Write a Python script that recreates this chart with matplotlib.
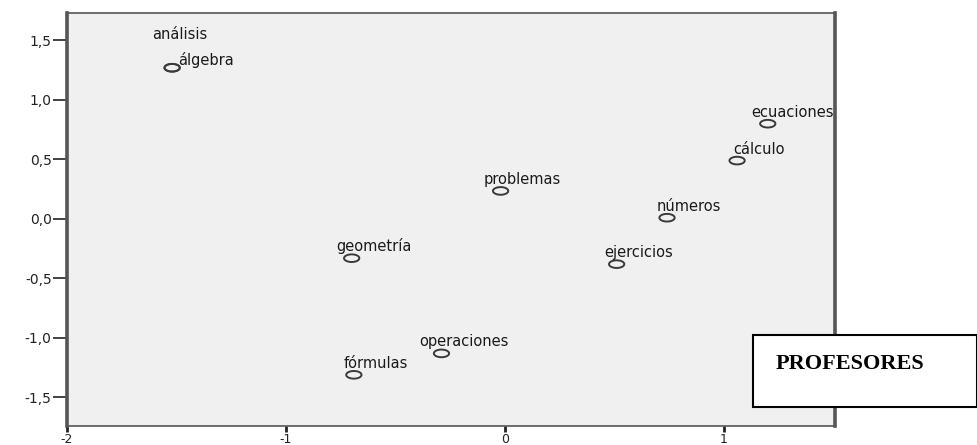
import matplotlib
matplotlib.use("Agg")
import matplotlib.pyplot as plt
import numpy as np
from matplotlib.path import Path
from matplotlib.patches import Rectangle

# coordenadas (dimension 1, dimension 2)
terms = ["análisis", "álgebra", "ecuaciones", "cálculo", "problemas", "números",
         "geometría", "ejercicios", "operaciones", "fórmulas"]
dim1 = [-1.52, -1.52, 1.20, 1.06, -0.02, 0.74, -0.70, 0.51, -0.29, -0.69]
dim2 = [1.27, 1.27, 0.80, 0.49, 0.235, 0.01, -0.33, -0.38, -1.13, -1.31]

xticks = [-2, -1, 0, 1]
yticks = [-1.5, -1.0, -0.5, 0.0, 0.5, 1.0, 1.5]

# desplazamiento de las etiquetas (pixeles) y alineacion
label_pos = {
    "análisis": (8, 29, "center"),
    "álgebra": (6, 3, "left"),
    "ecuaciones": (66, 7, "right"),
}

fig = plt.figure(figsize=(9.78, 4.45), dpi=100)
ax = fig.add_axes([67 / 978, 1 - 426 / 445, (835 - 67) / 978, (426 - 13) / 445])
ax.set_facecolor("#f0f0f0")

# marcador eliptico (la imagen original esta estirada en horizontal)
t = np.linspace(0, 2 * np.pi, 60)
ellipse = Path(np.column_stack([np.cos(t), 0.5 * np.sin(t)]))
ax.scatter(dim1, dim2, marker=ellipse, s=11 ** 2, facecolors="none",
           edgecolors="#3a3a3a", linewidths=1.4, zorder=3)

for name, x, y in zip(terms, dim1, dim2):
    dx, dy, ha = label_pos.get(name, (22, 7, "center"))
    ax.annotate(name, (x, y), xytext=(dx, dy), textcoords="offset pixels",
                ha=ha, va="baseline", fontsize=10.5, family="DejaVu Sans",
                color="#1a1a1a")

ax.set_xlim(-2, 1.507)
ax.set_ylim(-1.74, 1.73)
ax.set_xticks(xticks)
ax.set_xticklabels([str(v) for v in xticks])
ax.set_yticks(yticks)
ax.set_yticklabels([f"{v:.1f}".replace(".", ",") for v in yticks])
ax.tick_params(axis="y", direction="out", length=10, width=1.2, pad=1,
               labelsize=10, colors="#222222")
ax.tick_params(axis="x", direction="out", length=4.5, width=2, pad=0.5,
               labelsize=9, colors="#222222")

for side in ["left", "right"]:
    ax.spines[side].set_color("#555555")
    ax.spines[side].set_linewidth(2.6)
for side in ["top", "bottom"]:
    ax.spines[side].set_color("#555555")
    ax.spines[side].set_linewidth(1.2)

# recuadro con el titulo
box = Rectangle((753 / 978, 1 - 407 / 445), (977 - 753) / 978, (407 - 335) / 445,
                transform=fig.transFigure, facecolor="white", edgecolor="black",
                linewidth=1.5, zorder=5)
fig.add_artist(box)
fig.text(776 / 978, 1 - 369 / 445, "PROFESORES", family="Liberation Serif",
         fontweight="bold", fontsize=16, ha="left", va="baseline", zorder=6)

fig.savefig("out.png", dpi=100)
